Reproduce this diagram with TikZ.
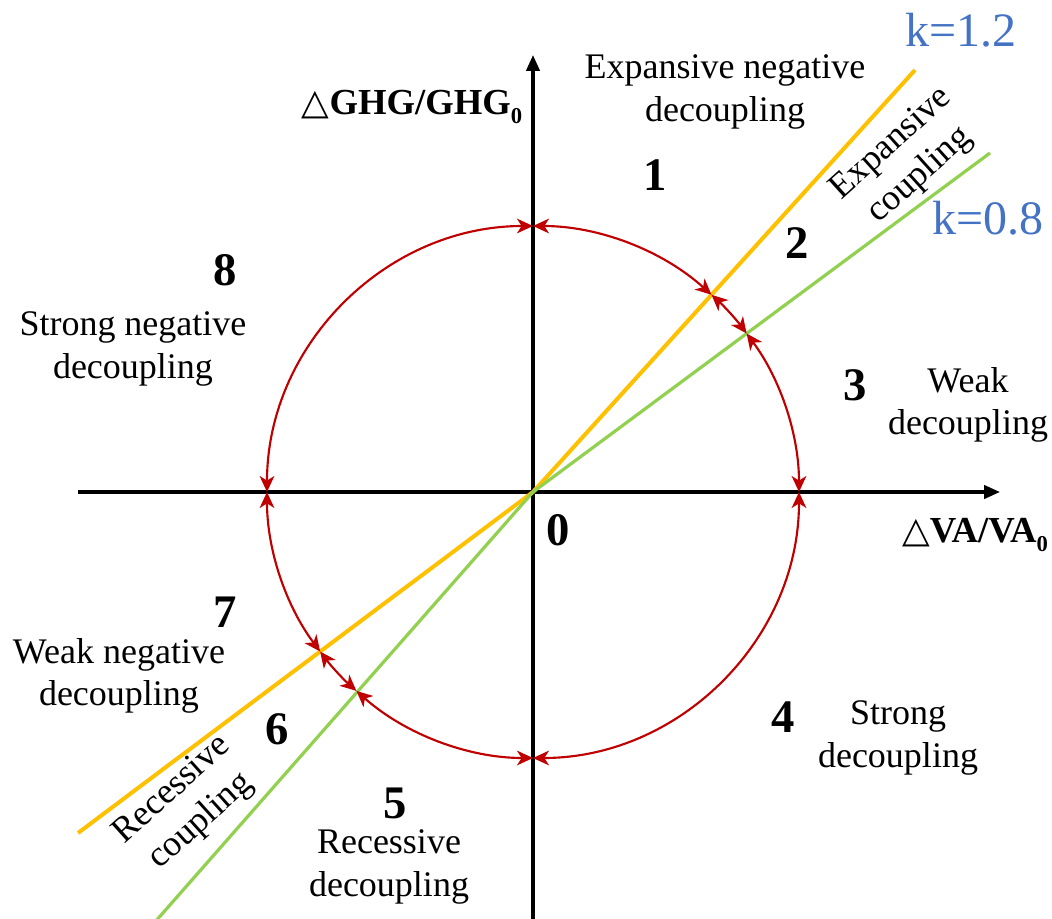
\documentclass[tikz,border=0pt]{standalone}
\usepackage{fontspec}
\setmainfont{Liberation Serif}
\newfontfamily\dvs{DejaVu Sans}
\usetikzlibrary{arrows.meta}
\definecolor{cred}{HTML}{C00000}
\definecolor{corange}{HTML}{FFC000}
\definecolor{cgreen}{HTML}{92D050}
\definecolor{cblue}{HTML}{4472C4}
\tikzset{
  axisline/.style={line width=2.5pt,-{Triangle[length=12pt,width=10pt]}},
  arcline/.style={cred,line width=1.6pt,{Stealth[length=12pt,width=11pt,inset=3.5pt]}-{Stealth[length=12pt,width=11pt,inset=3.5pt]}},
  lbl/.style={font=\fontsize{27}{32}\selectfont,align=center,inner sep=0pt},
  num/.style={font=\fontsize{35}{40}\selectfont\bfseries,inner sep=0pt},
  klbl/.style={font=\fontsize{36}{40}\selectfont,text=cblue,inner sep=0pt},
  axlbl/.style={font=\fontsize{27.5}{32}\selectfont\bfseries,inner sep=0pt},
}
\newcommand{\tri}{{\dvs\mdseries\fontsize{27}{30}\selectfont\char"25B3}}
\newcommand{\sub}[1]{\raisebox{-0.22em}{\fontsize{17}{17}\selectfont #1}}
\begin{document}
\begin{tikzpicture}[x=0.75pt,y=0.75pt]
\useasboundingbox (-533,-426) rectangle (519,492);
% axes
\coordinate (O) at (0,0);
\coordinate (xs) at (-455,0);
\coordinate (xe) at (467,0);
\coordinate (ys) at (0,-430);
\coordinate (ye) at (0,437);
\draw[axisline] (xs) -- (xe);
\draw[axisline] (ys) -- (ye);
% k lines
\coordinate (ou) at (382,422);
\coordinate (ol) at (-455,-341);
\coordinate (gu) at (457,339);
\coordinate (gl) at (-378,-430);
\draw[corange,line width=3pt] (ol) -- (O) -- (ou);
\draw[cgreen,line width=2.4pt] (gl) -- (O) -- (gu);
% circle arcs
\def\R{266}
\draw[arcline] (90:\R) arc[start angle=90,end angle=47.85,radius=\R];
\draw[arcline] (47.85:\R) arc[start angle=47.85,end angle=36.57,radius=\R];
\draw[arcline] (36.57:\R) arc[start angle=36.57,end angle=0,radius=\R];
\draw[arcline] (0:\R) arc[start angle=0,end angle=-90,radius=\R];
\draw[arcline] (-90:\R) arc[start angle=-90,end angle=-131.6,radius=\R];
\draw[arcline] (-131.6:\R) arc[start angle=-131.6,end angle=-143.15,radius=\R];
\draw[arcline] (-143.15:\R) arc[start angle=-143.15,end angle=-180,radius=\R];
\draw[arcline] (180:\R) arc[start angle=180,end angle=90,radius=\R];
% labels
\node[lbl] (t1) at (192,400) {Expansive negative\\decoupling};
\node[num] (n1) at (122,317) {1};
\node[lbl,rotate=42] (t2) at (373,332) {Expansive\\coupling};
\node[num] (n2) at (264,249) {2};
\node[klbl] (k1) at (428,462) {k=1.2};
\node[klbl] (k2) at (455,274) {k=0.8};
\node[num] (n3) at (322,107) {3};
\node[lbl] (t3) at (435,87) {Weak\\decoupling};
\node[num] (n0) at (25,-38) {0};
\node[axlbl] (xl) at (442,-43) {\tri VA/VA\sub{0}};
\node[axlbl] (yl) at (-121,385) {\tri GHG/GHG\sub{0}};
\node[num] (n8) at (-308,222) {8};
\node[lbl] (t8) at (-400,143) {Strong negative\\decoupling};
\node[num] (n7) at (-308,-120) {7};
\node[lbl] (t7) at (-414,-184) {Weak negative\\decoupling};
\node[num] (n6) at (-256,-237) {6};
\node[lbl,rotate=42] (t6) at (-346,-314) {Recessive\\coupling};
\node[num] (n5) at (-138,-311) {5};
\node[lbl] (t5) at (-144,-375) {Recessive\\decoupling};
\node[num] (n4) at (250,-225) {4};
\node[lbl] (t4) at (365,-246) {Strong\\decoupling};
\end{tikzpicture}
\end{document}
